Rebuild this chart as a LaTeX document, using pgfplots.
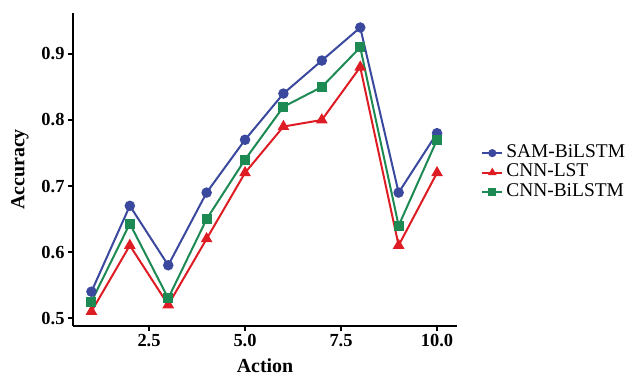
\documentclass[border=0pt]{standalone}
\usepackage{pgfplots}
\pgfplotsset{compat=1.18}
\usepackage{fontspec}
\setmainfont{Liberation Serif}
\definecolor{cblue}{RGB}{58,72,158}
\definecolor{cred}{RGB}{222,28,36}
\definecolor{cgreen}{RGB}{28,138,82}
\begin{document}
\begin{tikzpicture}
\path[use as bounding box] (0,0) rectangle (630bp,376bp);
\begin{axis}[
  at={(73bp,50bp)}, anchor=south west,
  scale only axis, width=384bp, height=313bp,
  xmin=0.52, xmax=10.52, ymin=0.488, ymax=0.962,
  axis x line*=bottom, axis y line*=left,
  axis line style={line width=1.6bp, -, black},
  xtick={2.5,5,7.5,10}, ytick={0.5,0.6,0.7,0.8,0.9},
  xticklabel style={/pgf/number format/.cd, fixed, fixed zerofill, precision=1},
  yticklabel style={/pgf/number format/.cd, fixed, fixed zerofill, precision=1},
  /pgf/number format/assume math mode=true,
  tick label style={font=\fontsize{18.5}{18.5}\selectfont\bfseries},
  tick align=outside, major tick length=5bp, tick style={line width=1.2bp, black},
  xlabel={Action}, ylabel={Accuracy},
  label style={font=\fontsize{20}{20}\selectfont\bfseries},
  xlabel style={yshift=-4.5bp},
  ylabel style={yshift=6bp},
  legend style={at={(1.055,0.49)}, anchor=west, draw=none, fill=none,
    font=\fontsize{19.5}{19.5}\selectfont,
    nodes={inner sep=0pt, text height=14bp, text depth=5.5bp},
    row sep=0pt, column sep=3bp},
  legend cell align=left,
  legend image code/.code={\draw[mark repeat=2,mark phase=2, mark size=3bp] plot coordinates {(0bp,0bp)(10bp,0bp)(20bp,0bp)};},
]
\addplot[color=cblue, line width=2bp, mark=*, mark size=4.2bp] coordinates {
(1,0.54)(2,0.67)(3,0.58)(4,0.69)(5,0.77)(6,0.84)(7,0.89)(8,0.94)(9,0.69)(10,0.78)};
\addlegendentry{SAM-BiLSTM}
\addplot[color=cred, line width=2bp, mark=triangle*, mark size=4.8bp] coordinates {
(1,0.51)(2,0.61)(3,0.52)(4,0.62)(5,0.72)(6,0.79)(7,0.80)(8,0.88)(9,0.61)(10,0.72)};
\addlegendentry{CNN-LST}
\addplot[color=cgreen, line width=2bp, mark=square*, mark size=4bp] coordinates {
(1,0.525)(2,0.643)(3,0.53)(4,0.65)(5,0.74)(6,0.82)(7,0.85)(8,0.91)(9,0.64)(10,0.77)};
\addlegendentry{CNN-BiLSTM}
\end{axis}
\end{tikzpicture}
\end{document}
